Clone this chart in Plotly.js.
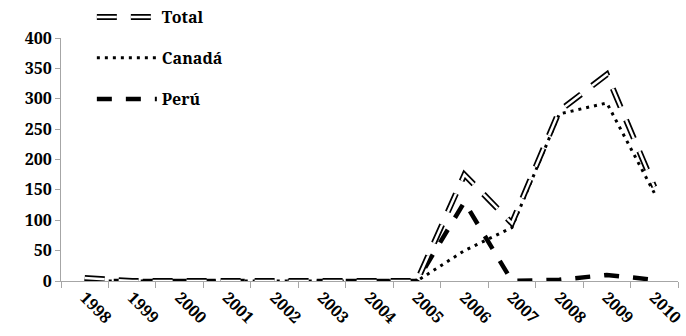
<!DOCTYPE html>
<html>
<head>
<meta charset="utf-8">
<script src="https://cdn.plot.ly/plotly-3.0.1.min.js"></script>
<style>html,body{margin:0;padding:0;background:#fff;}#chart{width:686px;height:336px;}</style>
</head>
<body>
<div id="chart"></div>
<script>
const years = ['1998','1999','2000','2001','2002','2003','2004','2005','2006','2007','2008','2009','2010'];
const total = [5,0,0,0,0,0,0,0,175,95,280,340,155];
const canada = [0,0,0,0,0,0,0,0,50,88,275,293,145];
const peru = [0,0,0,0,0,0,0,0,130,0,2,10,2];
const seriesNames = ['Total','Canadá','Perú'];
const yTicks = [0,50,100,150,200,250,300,350,400];

const fontFam = '"Noto Serif", "DejaVu Serif", serif';
const lf = {family: fontFam, size: 16, color: '#000', weight: 'bold'};

const traces = [
  {x: years, y: canada, type: 'scatter', mode: 'lines', name: seriesNames[1],
   line: {color: '#000', width: 3, dash: '3px,5px'}, legend: 'legend2'},
  {x: years, y: peru, type: 'scatter', mode: 'lines', name: seriesNames[2],
   line: {color: '#000', width: 4.5, dash: '15px,14px'}, legend: 'legend3'},
  {x: years, y: total, type: 'scatter', mode: 'lines', name: seriesNames[0],
   line: {color: '#000', width: 6, dash: '20px,14px'}, legend: 'legend'},
  {x: years, y: total, type: 'scatter', mode: 'lines', name: ' ',
   line: {color: '#fff', width: 2.5, dash: '20px,14px'}, legend: 'legend4'}
];

function lg(y) {
  return {x: 0.05, y: y, xanchor: 'left', yanchor: 'middle',
          bgcolor: 'rgba(0,0,0,0)', font: lf, itemwidth: 60, borderwidth: 0};
}

const layout = {
  width: 686, height: 336,
  font: {family: fontFam},
  margin: {l: 61, r: 8, t: 38, b: 55, autoexpand: false},
  paper_bgcolor: '#fff', plot_bgcolor: '#fff',
  showlegend: true,
  legend: lg(1.086),
  legend2: lg(0.918),
  legend3: lg(0.749),
  legend4: lg(1.086),
  xaxis: {
    type: 'category', tickson: 'boundaries', ticks: 'outside', ticklen: 6,
    tickcolor: '#a6a6a6', showline: true, linecolor: '#a6a6a6', linewidth: 1,
    showgrid: false, zeroline: false, tickangle: 45, automargin: false,
    tickfont: {family: fontFam, size: 16, color: '#000', weight: 'bold'},
    range: [-0.5, 12.5]
  },
  yaxis: {
    range: [0, 400], tickvals: yTicks, ticks: 'outside', ticklen: 5,
    tickcolor: '#a6a6a6', showline: true, linecolor: '#a6a6a6', linewidth: 1,
    showgrid: false, zeroline: false, automargin: false,
    tickfont: {family: fontFam, size: 16, color: '#000', weight: 'bold'}
  }
};

Plotly.newPlot('chart', traces, layout, {displayModeBar: false, staticPlot: true});
</script>
</body>
</html>
